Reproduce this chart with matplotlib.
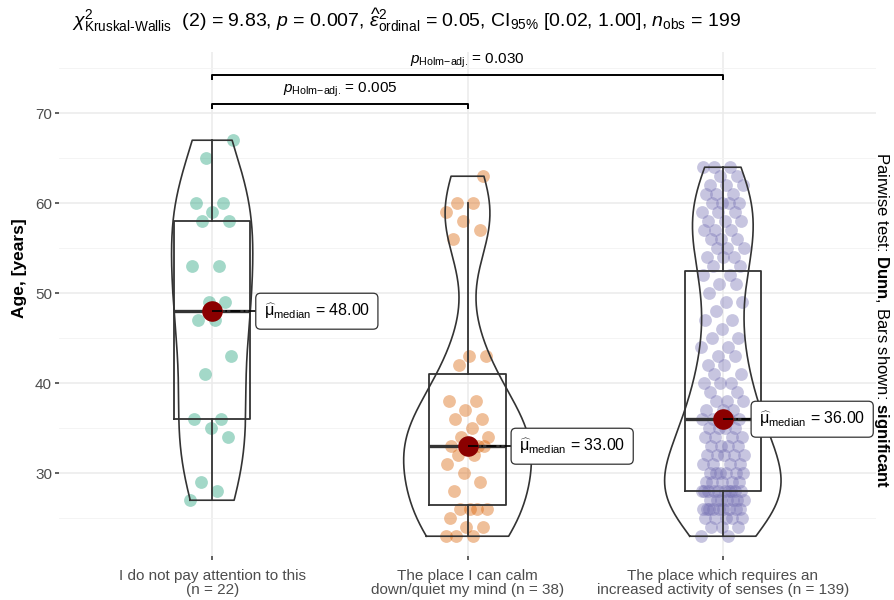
import numpy as np
import matplotlib
matplotlib.use('Agg')
import matplotlib.pyplot as plt

plt.rcParams['font.family'] = ['Liberation Sans', 'DejaVu Sans']
plt.rcParams['mathtext.fontset'] = 'custom'
plt.rcParams['mathtext.rm'] = 'Liberation Sans'
plt.rcParams['mathtext.it'] = 'Liberation Sans:italic'
plt.rcParams['mathtext.bf'] = 'Liberation Sans:bold'
plt.rcParams['mathtext.sf'] = 'Liberation Sans'

# ---- data (ages) ----
groups = ['I do not pay attention to this', 'The place I can calm\ndown/quiet my mind',
          'The place which requires an\nincreased activity of senses']
colors = ['#1B9E77', '#D95F02', '#7570B3']

age_ignore = [27, 28, 29, 34, 35, 36, 36, 41, 43, 47, 47, 49, 49, 53, 53, 58, 58, 59,
              60, 60, 65, 67]
age_calm = [23, 23, 23, 24, 24, 25, 26, 26, 26, 26, 28, 29, 30, 31, 32, 32, 33, 33, 33,
            33, 34, 34, 35, 36, 36, 37, 38, 38, 42, 43, 43, 56, 57, 58, 59, 60, 60, 63]
age_senses = [23, 23, 24, 24, 24, 25, 25, 25, 25, 25,
              26, 26, 26, 26, 26, 26, 26, 26, 26,
              27, 27, 27, 27, 27, 27, 27,
              28, 28, 28, 28, 28, 28, 28, 28, 28, 28,
              29, 29, 29, 29, 29, 30, 30, 30, 30, 30, 30,
              31, 31, 31, 31, 32, 32, 32, 32, 32, 33, 33, 33, 33,
              34, 34, 34, 34, 35, 35, 35, 35, 36, 36, 36, 36,
              37, 37, 37, 38, 38, 38, 39, 39, 40, 40, 40, 41, 41, 42, 42,
              43, 43, 44, 44, 45, 45, 46, 47, 47, 48, 49, 49, 50, 51, 51,
              52, 52, 53, 53, 54, 54, 54, 55, 55, 55, 56, 56, 56, 57, 57, 57,
              58, 58, 58, 59, 59, 59, 60, 60, 60, 60, 61, 61, 61, 62, 62, 62,
              63, 63, 64, 64, 64]
data = [age_ignore, age_calm, age_senses]

pairs = [(1, 2), (1, 3)]
p_holm = ['0.005', '0.030']
title = (r"$\chi^2_{\mathrm{Kruskal\text{-}Wallis}}$  (2) = 9.83, $\mathit{p}$ = 0.007, "
         r"$\widehat{\varepsilon}^2_{\mathrm{ordinal}}$ = 0.05, CI$_{95\%}$ [0.02, 1.00], "
         r"$\mathit{n}_{\mathrm{obs}}$ = 199")

# ---- layout ----
pos = np.arange(1, len(data) + 1)
bar_y = [71.0, 74.2]
label_nudge = [0.17, 0.17, 0.11]
grey = '#333333'

fig = plt.figure(figsize=(8.95, 6), dpi=100)
ax = fig.add_axes([0.0659, 0.0733, 0.9129, 0.84])
ax.set_xlim(0.4, 3.6)
ax.set_ylim(20.8, 76.8)

ax.set_yticks([30, 40, 50, 60, 70])
ax.set_yticks([25, 35, 45, 55, 65, 75], minor=True)
ax.grid(True, which='major', color='#EBEBEB', lw=1.1)
ax.grid(True, which='minor', axis='y', color='#F3F3F3', lw=0.6)
ax.set_axisbelow(True)
for s in ax.spines.values():
    s.set_visible(False)
ax.tick_params(axis='both', which='major', length=3, width=1.1, color=grey,
               labelcolor='#4D4D4D', labelsize=11, pad=2)
ax.tick_params(axis='x', which='major', pad=6)
ax.tick_params(axis='y', which='minor', length=0)
ns = [len(d) for d in data]
ax.set_xticks(pos, [f'{g} (n = {n})' if '\n' in g else f'{g}\n(n = {n})'
                    for g, n in zip(groups, ns)])
for lab in ax.get_xticklabels():
    lab.set_linespacing(1.05)

# jittered points (deterministic golden-ratio offsets)
for p, d, c in zip(pos, data, colors):
    d = np.asarray(d, float)
    k = np.arange(len(d))
    off = ((k * 0.6180339887) % 1.0 - 0.5) * 0.17
    ax.scatter(p + off, d, s=85, color=c, alpha=0.4, linewidths=0, zorder=2)

# boxplots
ax.boxplot(data, positions=pos, widths=0.3, whis=1.5, showfliers=False, showcaps=False,
           manage_ticks=False,
           boxprops=dict(color=grey, lw=1.3), whiskerprops=dict(color=grey, lw=1.3),
           medianprops=dict(color=grey, lw=2.4), zorder=3)

# violins (gaussian kde, nrd0 bandwidth, trimmed, area scaled)
dens_all = []
for d in data:
    d = np.asarray(d, float)
    sd = d.std(ddof=1)
    iqr = np.subtract(*np.percentile(d, [75, 25]))
    bw = 0.9 * min(sd, iqr / 1.34) * len(d) ** -0.2
    yy = np.linspace(d.min(), d.max(), 512)
    dens = np.exp(-0.5 * ((yy[:, None] - d[None, :]) / bw) ** 2).sum(1) / (len(d) * bw * np.sqrt(2 * np.pi))
    dens_all.append((yy, dens))
dmax = max(dd.max() for _, dd in dens_all)
for p, (yy, dens) in zip(pos, dens_all):
    half = dens / dmax * 0.25
    xs = np.concatenate([p - half, (p + half)[::-1], [p - half[0]]])
    ys = np.concatenate([yy, yy[::-1], [yy[0]]])
    ax.plot(xs, ys, color=grey, lw=1.2, zorder=3)

# medians with labels
for p, d, nx in zip(pos, data, label_nudge):
    m = np.median(d)
    ax.scatter([p], [m], s=220, color='#8B0000', zorder=5, linewidths=0)
    ax.plot([p, p + nx], [m, m], color='black', lw=1.2, ls=(0, (6, 2, 1, 2)), zorder=6)
    ax.text(p + nx + 0.032, m, r'$\widehat{\mathrm{\mu}}_{\mathrm{median}}$ = ' + f'{m:.2f}',
            ha='left', va='center', fontsize=11.5, color='black', zorder=7,
            bbox=dict(boxstyle='round,pad=0.5,rounding_size=0.3', fc='white',
                      ec=grey, lw=0.9))

# significance brackets
tip = 0.55
for (a, b), pv, yb in zip(pairs, p_holm, bar_y):
    ax.plot([a, a, b, b], [yb - tip, yb, yb, yb - tip], color='black', lw=1.4,
            clip_on=False, zorder=4, solid_capstyle='butt')
    ax.text((a + b) / 2, yb + 1.6, r'$\mathit{p}_{\text{Holm' + '\u2212' + r'adj.}}$ = ' + pv,
            ha='center', va='center', fontsize=11)

fig.text(0.080, 0.967, title, ha='left', va='center', fontsize=14)
fig.text(0.022, 0.553, 'Age, [years]', rotation=90, ha='center', va='center',
         fontsize=12.5, fontweight='bold')
fig.text(0.985, 0.467, r'Pairwise test: $\mathbf{Dunn}$, Bars shown: $\mathbf{significant}$',
         rotation=270, ha='center', va='center', fontsize=12)

fig.savefig('out.png', dpi=100)
